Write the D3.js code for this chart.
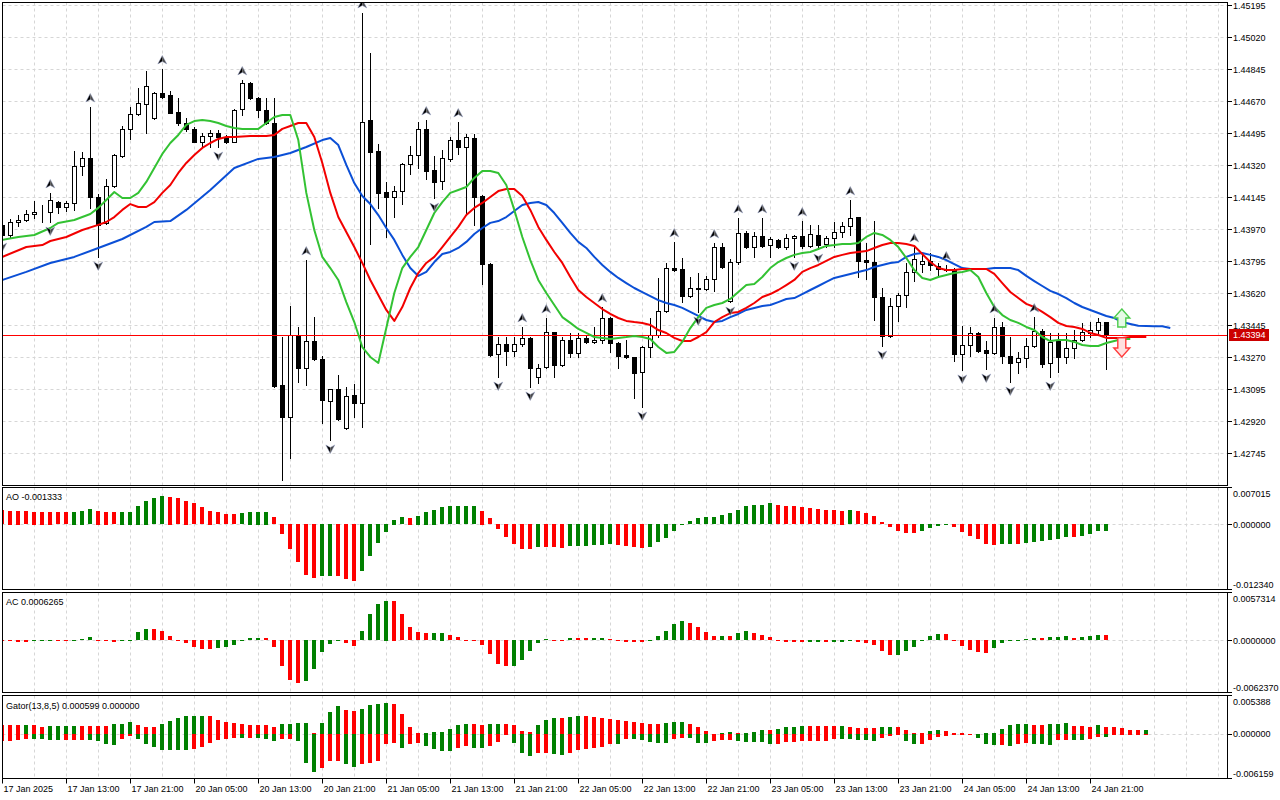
<!DOCTYPE html>
<html><head><meta charset="utf-8">
<script src="https://cdn.jsdelivr.net/npm/d3@7"></script>
<style>
html,body{margin:0;padding:0;background:#fff;}
svg{display:block;}
text{font-family:"Liberation Sans",Arial,sans-serif;font-size:9px;fill:#000;}
</style>
</head><body>
<svg id="c" width="1280" height="800"></svg>
<script>
// ---------------- DATA ----------------
const opens = [1.43994,1.43939,1.44010,1.44021,1.44054,1.44065,1.44065,1.44119,1.44092,1.44114,
1.44316,1.44360,1.44147,1.44005,1.44207,1.44371,1.44519,1.44601,1.44655,1.44579,
1.44715,1.44705,1.44612,1.44551,1.44519,1.44448,1.44480,1.44497,1.44475,1.44447,
1.44628,1.44770,1.44688,1.44622,1.44551,1.43119,1.42944,1.43392,1.43212,1.43359,
1.43261,1.43031,1.43097,1.42883,1.43064,1.43020,1.44568,1.44398,1.44174,1.44147,
1.44179,1.44327,1.44376,1.44519,1.44294,1.44234,1.44355,1.44458,1.44420,1.44469,
1.44152,1.43780,1.43288,1.43343,1.43304,1.43343,1.43376,1.43162,1.43217,1.43408,
1.43228,1.43365,1.43294,1.43376,1.43354,1.43365,1.43485,1.43348,1.43283,1.43272,
1.43190,1.43326,1.43392,1.43523,1.43758,1.43753,1.43605,1.43649,1.43644,1.43698,
1.43873,1.43578,1.43791,1.43950,1.43873,1.43933,1.43884,1.43912,1.43873,1.43922,
1.43933,1.43879,1.43939,1.43890,1.43922,1.43955,1.43988,1.44037,1.43802,1.43791,
1.43600,1.43387,1.43551,1.43611,1.43737,1.43780,1.43797,1.43769,1.43753,1.43753,
1.43288,1.43337,1.43403,1.43310,1.43294,1.43436,1.43277,1.43244,1.43266,1.43332,
1.43414,1.43239,1.43365,1.43272,1.43321,1.43365,1.43403,1.43419,1.43463];
const highs = [1.44010,1.44026,1.44048,1.44076,1.44125,1.44103,1.44169,1.44125,1.44125,1.44398,
1.44393,1.44639,1.44163,1.44245,1.44382,1.44535,1.44639,1.44743,1.44836,1.44721,
1.44847,1.44726,1.44688,1.44579,1.44530,1.44497,1.44513,1.44513,1.44486,1.44628,
1.44787,1.44776,1.44694,1.44688,1.44688,1.43381,1.43551,1.43436,1.43802,1.43490,
1.43277,1.43097,1.43173,1.43108,1.43124,1.45153,1.44934,1.44437,1.44229,1.44207,
1.44333,1.44426,1.44557,1.44568,1.44371,1.44404,1.44475,1.44557,1.44491,1.44491,
1.44155,1.43783,1.43381,1.43381,1.43381,1.43436,1.43381,1.43233,1.43485,1.43411,
1.43381,1.43403,1.43403,1.43387,1.43436,1.43545,1.43490,1.43354,1.43365,1.43274,
1.43332,1.43485,1.43704,1.43786,1.43901,1.43813,1.43709,1.43731,1.43715,1.43895,
1.43895,1.43808,1.44032,1.43961,1.43955,1.44032,1.43928,1.43917,1.43944,1.43939,
1.44015,1.43994,1.43994,1.43933,1.44010,1.44010,1.44130,1.44040,1.43895,1.44015,
1.43649,1.43594,1.43622,1.43786,1.43873,1.43830,1.43840,1.43786,1.43775,1.43758,
1.43441,1.43436,1.43408,1.43359,1.43485,1.43463,1.43381,1.43299,1.43376,1.43490,
1.43425,1.43403,1.43403,1.43403,1.43419,1.43458,1.43463,1.43485,1.43465];
const lows = [1.43922,1.43928,1.43988,1.44015,1.44032,1.44010,1.44010,1.44059,1.44070,1.44076,
1.44267,1.44087,1.43819,1.43999,1.44201,1.44365,1.44464,1.44595,1.44497,1.44573,
1.44688,1.44604,1.44541,1.44508,1.44445,1.44426,1.44420,1.44420,1.44442,1.44445,
1.44595,1.44683,1.44584,1.44546,1.43108,1.42599,1.42719,1.43135,1.43119,1.43255,
1.42911,1.42818,1.42927,1.42878,1.42944,1.42889,1.43890,1.44087,1.43928,1.44037,
1.44108,1.44272,1.44305,1.44245,1.44141,1.44190,1.44344,1.44382,1.44059,1.43994,
1.43671,1.43277,1.43162,1.43228,1.43277,1.43332,1.43108,1.43130,1.43212,1.43162,
1.43223,1.43272,1.43272,1.43348,1.43348,1.43348,1.43299,1.43212,1.43266,1.43048,
1.42998,1.43272,1.43381,1.43518,1.43742,1.43572,1.43600,1.43518,1.43638,1.43633,
1.43758,1.43572,1.43780,1.43868,1.43819,1.43871,1.43819,1.43868,1.43862,1.43819,
1.43868,1.43873,1.43862,1.43873,1.43873,1.43928,1.43939,1.43709,1.43698,1.43474,
1.43332,1.43381,1.43469,1.43545,1.43687,1.43737,1.43747,1.43715,1.43742,1.43250,
1.43201,1.43277,1.43299,1.43206,1.43288,1.43239,1.43135,1.43184,1.43217,1.43326,
1.43217,1.43162,1.43190,1.43239,1.43266,1.43359,1.43381,1.43403,1.43206];
const closes = [1.43939,1.44010,1.44021,1.44054,1.44065,1.44063,1.44130,1.44092,1.44114,1.44316,
1.44360,1.44147,1.43994,1.44207,1.44376,1.44519,1.44601,1.44661,1.44754,1.44715,
1.44694,1.44608,1.44551,1.44519,1.44449,1.44480,1.44497,1.44475,1.44447,1.44622,
1.44770,1.44688,1.44622,1.44551,1.43113,1.42944,1.43392,1.43212,1.43359,1.43261,
1.43037,1.43097,1.42933,1.43058,1.43020,1.44557,1.44393,1.44169,1.44147,1.44179,
1.44327,1.44376,1.44519,1.44289,1.44229,1.44360,1.44458,1.44420,1.44475,1.44147,
1.43780,1.43283,1.43343,1.43304,1.43343,1.43376,1.43212,1.43212,1.43408,1.43228,
1.43365,1.43294,1.43376,1.43354,1.43365,1.43485,1.43348,1.43277,1.43272,1.43184,
1.43326,1.43392,1.43523,1.43758,1.43747,1.43605,1.43649,1.43644,1.43698,1.43873,
1.43764,1.43791,1.43950,1.43873,1.43933,1.43879,1.43917,1.43873,1.43922,1.43933,
1.43879,1.43944,1.43884,1.43922,1.43955,1.43988,1.44032,1.43797,1.43791,1.43600,
1.43387,1.43551,1.43611,1.43737,1.43808,1.43797,1.43775,1.43753,1.43747,1.43288,
1.43337,1.43403,1.43304,1.43294,1.43436,1.43277,1.43239,1.43266,1.43332,1.43414,
1.43233,1.43354,1.43272,1.43321,1.43365,1.43408,1.43419,1.43463,1.43394];

// Alligator lines as [bar, price] (already shifted forward)
const jaw = [[0,1.43693],[3,1.43737],[6,1.43786],[9,1.43819],[12,1.43868],[15,1.43917],[18,1.43983],[19,1.44010],[21,1.44015],[23,1.44076],[26,1.44185],[29,1.44305],[32,1.44355],[34,1.44365],[36,1.44387],[38,1.44420],[40,1.44458],[41,1.44469],[42,1.44431],[43,1.44322],[44,1.44223],[45,1.44152],[46,1.44108],[47,1.44048],[48,1.43977],[49,1.43912],[50,1.43830],[51,1.43758],[52,1.43715],[53,1.43737],[54,1.43791],[55,1.43835],[56,1.43846],[57,1.43868],[58,1.43901],[59,1.43944],[60,1.43977],[61,1.44005],[62,1.44015],[63,1.44037],[64,1.44070],[65,1.44103],[66,1.44114],[67,1.44119],[68,1.44103],[69,1.44059],[70,1.44005],[71,1.43950],[72,1.43901],[73,1.43868],[74,1.43819],[75,1.43775],[76,1.43737],[77,1.43704],[78,1.43676],[79,1.43649],[80,1.43627],[81,1.43605],[82,1.43583],[83,1.43567],[84,1.43556],[85,1.43540],[86,1.43518],[87,1.43496],[88,1.43474],[89,1.43463],[90,1.43469],[91,1.43490],[92,1.43507],[93,1.43529],[94,1.43540],[95,1.43551],[96,1.43556],[97,1.43572],[98,1.43589],[99,1.43594],[100,1.43616],[101,1.43638],[102,1.43660],[103,1.43682],[104,1.43704],[105,1.43715],[106,1.43726],[107,1.43737],[108,1.43747],[109,1.43764],[110,1.43775],[111,1.43786],[112,1.43791],[113,1.43819],[114,1.43835],[115,1.43840],[116,1.43830],[117,1.43819],[118,1.43802],[119,1.43780],[120,1.43758],[121,1.43753],[122,1.43753],[123,1.43753],[124,1.43758],[125,1.43758],[126,1.43758],[127,1.43747],[128,1.43715],[129,1.43687],[130,1.43660],[131,1.43633],[132,1.43616],[133,1.43594],[134,1.43567],[135,1.43545],[136,1.43529],[137,1.43512],[138,1.43496],[139,1.43485],[140,1.43463],[141,1.43452],[142,1.43442],[143,1.43441],[144,1.43440],[145,1.43440],[146,1.43430]];
const teeth = [[0,1.43819],[3,1.43873],[5,1.43884],[6,1.43906],[8,1.43928],[10,1.43966],[12,1.43994],[13,1.44010],[14,1.44037],[15,1.44076],[16,1.44108],[17,1.44092],[18,1.44092],[19,1.44119],[20,1.44169],[21,1.44212],[22,1.44278],[23,1.44333],[24,1.44376],[25,1.44415],[26,1.44442],[27,1.44464],[28,1.44475],[29,1.44475],[31,1.44480],[33,1.44480],[34,1.44486],[35,1.44519],[36,1.44535],[37,1.44551],[38,1.44551],[39,1.44475],[40,1.44333],[41,1.44169],[42,1.44037],[43,1.43955],[44,1.43873],[45,1.43786],[46,1.43693],[47,1.43611],[48,1.43529],[49,1.43469],[50,1.43545],[51,1.43649],[52,1.43731],[53,1.43786],[54,1.43819],[55,1.43873],[56,1.43928],[57,1.43983],[58,1.44048],[59,1.44087],[60,1.44114],[61,1.44147],[62,1.44179],[63,1.44190],[64,1.44190],[65,1.44152],[66,1.44076],[67,1.43983],[68,1.43912],[69,1.43846],[70,1.43786],[71,1.43709],[72,1.43638],[73,1.43600],[74,1.43567],[75,1.43534],[76,1.43507],[77,1.43485],[78,1.43469],[79,1.43463],[80,1.43458],[81,1.43447],[82,1.43419],[83,1.43403],[84,1.43376],[85,1.43359],[86,1.43359],[87,1.43381],[88,1.43408],[89,1.43463],[90,1.43490],[91,1.43512],[92,1.43518],[93,1.43540],[94,1.43567],[95,1.43600],[96,1.43616],[97,1.43638],[98,1.43665],[99,1.43693],[100,1.43737],[101,1.43758],[102,1.43775],[103,1.43797],[104,1.43819],[105,1.43830],[106,1.43840],[107,1.43846],[108,1.43851],[109,1.43868],[110,1.43884],[111,1.43895],[112,1.43895],[113,1.43890],[114,1.43879],[115,1.43835],[116,1.43791],[117,1.43758],[118,1.43747],[119,1.43747],[120,1.43753],[121,1.43753],[122,1.43753],[123,1.43753],[124,1.43726],[125,1.43676],[126,1.43627],[127,1.43594],[128,1.43562],[129,1.43545],[130,1.43518],[131,1.43490],[132,1.43458],[133,1.43441],[134,1.43436],[135,1.43425],[136,1.43403],[137,1.43392],[138,1.43376],[139,1.43376],[140,1.43376],[141,1.43381],[142,1.43381],[143,1.43381]];
const lips = [[0,1.43912],[2,1.43928],[4,1.43939],[6,1.43977],[7,1.44005],[9,1.44021],[11,1.44054],[12,1.44087],[13,1.44130],[14,1.44174],[15,1.44141],[16,1.44141],[17,1.44169],[18,1.44229],[19,1.44305],[20,1.44382],[21,1.44442],[22,1.44486],[23,1.44541],[24,1.44562],[25,1.44568],[26,1.44562],[27,1.44551],[28,1.44535],[29,1.44524],[30,1.44519],[31,1.44519],[32,1.44519],[33,1.44551],[34,1.44584],[35,1.44595],[36,1.44595],[37,1.44458],[38,1.44169],[39,1.43966],[40,1.43819],[41,1.43758],[42,1.43693],[43,1.43572],[44,1.43463],[45,1.43326],[46,1.43272],[47,1.43239],[48,1.43430],[49,1.43622],[50,1.43758],[51,1.43819],[52,1.43873],[53,1.43966],[54,1.44059],[55,1.44119],[56,1.44169],[57,1.44185],[58,1.44201],[59,1.44251],[60,1.44289],[61,1.44289],[62,1.44278],[63,1.44212],[64,1.44076],[65,1.43928],[66,1.43802],[67,1.43693],[68,1.43622],[69,1.43556],[70,1.43490],[71,1.43458],[72,1.43425],[73,1.43403],[74,1.43381],[75,1.43376],[76,1.43370],[77,1.43376],[78,1.43381],[79,1.43387],[80,1.43381],[81,1.43370],[82,1.43326],[83,1.43294],[84,1.43299],[85,1.43354],[86,1.43430],[87,1.43490],[88,1.43540],[89,1.43556],[90,1.43567],[91,1.43589],[92,1.43627],[93,1.43665],[94,1.43671],[95,1.43709],[96,1.43758],[97,1.43791],[98,1.43813],[99,1.43830],[100,1.43840],[101,1.43846],[102,1.43862],[103,1.43879],[104,1.43884],[105,1.43890],[106,1.43890],[107,1.43895],[108,1.43928],[109,1.43950],[110,1.43939],[111,1.43912],[112,1.43873],[113,1.43813],[114,1.43747],[115,1.43704],[116,1.43693],[117,1.43709],[118,1.43720],[119,1.43731],[120,1.43737],[121,1.43747],[122,1.43709],[123,1.43622],[124,1.43545],[125,1.43501],[126,1.43474],[127,1.43458],[128,1.43436],[129,1.43419],[130,1.43381],[131,1.43359],[132,1.43365],[133,1.43365],[134,1.43354],[135,1.43337],[136,1.43332],[137,1.43332],[138,1.43348],[139,1.43359],[140,1.43370],[141,1.43370]];

const fractalUpBars = [6,11,20,30,38,45,53,57,65,68,75,84,89,92,95,100,106,114,118,124,129];
const fractalDownBars = [0,6,12,27,35,41,54,62,66,80,87,91,99,102,110,120,123,126,131];

const signalBar = 140;
const buySignal = [1.43534, 1.43436];
const sellSignal = [1.43376, 1.43272];
const currentPrice = 1.43394;

const ao = [0.00272,0.00259,0.00258,0.00247,0.00240,0.00239,0.00238,0.00237,0.00228,0.00240,
0.00259,0.00291,0.00259,0.00240,0.00228,0.00240,0.00242,0.00354,0.00449,0.00494,
0.00531,0.00530,0.00494,0.00449,0.00399,0.00323,0.00259,0.00228,0.00196,0.00195,
0.00209,0.00240,0.00241,0.00242,0.00133,-0.00196,-0.00481,-0.00721,-0.00962,-0.01025,
-0.00993,-0.00992,-0.00994,-0.01050,-0.01082,-0.00892,-0.00614,-0.00361,-0.00152,0.00089,
0.00133,0.00132,0.00165,0.00240,0.00278,0.00323,0.00342,0.00343,0.00344,0.00345,
0.00259,0.00114,-0.00101,-0.00247,-0.00386,-0.00468,-0.00481,-0.00437,-0.00440,-0.00442,
-0.00456,-0.00424,-0.00423,-0.00418,-0.00405,-0.00393,-0.00386,-0.00405,-0.00424,-0.00430,
-0.00449,-0.00430,-0.00348,-0.00272,-0.00127,0.00010,0.00063,0.00120,0.00139,0.00140,
0.00177,0.00215,0.00272,0.00348,0.00367,0.00368,0.00405,0.00367,0.00348,0.00347,
0.00329,0.00310,0.00291,0.00272,0.00271,0.00259,0.00272,0.00253,0.00215,0.00158,
0.00044,-0.00063,-0.00139,-0.00177,-0.00178,-0.00139,-0.00082,-0.00044,-0.00025,-0.00063,
-0.00158,-0.00234,-0.00291,-0.00386,-0.00405,-0.00386,-0.00385,-0.00387,-0.00367,-0.00348,
-0.00329,-0.00310,-0.00291,-0.00253,-0.00254,-0.00234,-0.00196,-0.00139,-0.001333];

const ac = [-0.00012,-0.00016,-0.00018,-0.00020,-0.00010,-0.00006,-0.00003,-0.00008,-0.00014,0.00002,
0.00016,0.00040,0.00004,-0.00010,-0.00028,-0.00016,0.00004,0.00099,0.00135,0.00134,
0.00111,0.00051,-0.00002,-0.00040,-0.00080,-0.00111,-0.00112,-0.00099,-0.00080,-0.00060,
-0.00005,0.00028,0.00029,0.00027,-0.00088,-0.00315,-0.00474,-0.00518,-0.00494,-0.00350,
-0.00147,-0.00044,-0.00008,-0.00040,-0.00068,0.00111,0.00315,0.00434,0.00474,0.00473,
0.00315,0.00159,0.00099,0.00087,0.00089,0.00090,0.00064,0.00040,0.00002,-0.00005,
-0.00056,-0.00167,-0.00283,-0.00315,-0.00314,-0.00243,-0.00135,-0.00040,0.00016,0.00002,
-0.00002,0.00026,0.00025,0.00024,0.00026,0.00027,0.00012,-0.00008,-0.00018,-0.00027,
-0.00028,-0.00002,0.00051,0.00111,0.00195,0.00231,0.00207,0.00159,0.00099,0.00051,
0.00053,0.00050,0.00087,0.00111,0.00087,0.00063,0.00039,0.00004,-0.00020,-0.00021,
-0.00027,-0.00026,-0.00025,-0.00027,-0.00026,-0.00020,-0.00002,-0.00020,-0.00040,-0.00063,
-0.00135,-0.00183,-0.00182,-0.00135,-0.00087,-0.00004,0.00051,0.00075,0.00074,-0.00004,
-0.00075,-0.00123,-0.00147,-0.00159,-0.00099,-0.00040,-0.00003,0.00002,0.00012,0.00027,
0.00026,0.00039,0.00040,0.00051,0.00028,0.00039,0.00051,0.00064,0.0006265];

const gatorUp = [0.001245,0.001238,0.001231,0.001245,0.001238,0.001065,0.001079,0.001093,0.001106,0.001203,
0.001189,0.001176,0.001162,0.001148,0.001424,0.001480,0.001756,0.001342,0.001065,0.001051,
0.001480,0.001895,0.002213,0.002489,0.002503,0.002586,0.002489,0.002033,0.001756,0.001618,
0.001424,0.001342,0.001245,0.001231,0.001065,0.001424,0.001480,0.001494,0.001507,0.000235,
0.001618,0.003139,0.003872,0.003416,0.003278,0.003554,0.004108,0.004190,0.004384,0.004246,
0.002863,0.001065,0.000138,0.000235,0.000318,0.000332,0.000788,0.001245,0.001424,0.001411,
0.001245,0.001424,0.001480,0.001466,0.001245,0.000512,0.000318,0.001342,0.001978,0.002310,
0.002296,0.002448,0.002586,0.002489,0.002351,0.002254,0.002116,0.001978,0.001895,0.001756,
0.001618,0.001480,0.001466,0.001521,0.001756,0.001770,0.001480,0.001065,0.000512,0.000041,
0.000235,0.000249,0.000138,0.000235,0.000373,0.000650,0.000636,0.000788,0.000968,0.001065,
0.001203,0.001189,0.001176,0.001162,0.001148,0.001162,0.000968,0.000871,0.000857,0.000830,
0.000968,0.001065,0.000968,0.000595,0.000138,0.000124,0.000512,0.000650,0.000512,0.000235,
0.000138,0.000041,0.000000,0.000138,0.000235,0.000788,0.001245,0.001424,0.001480,0.001342,
0.001328,0.001424,0.001480,0.001494,0.001203,0.001189,0.001065,0.001245,0.001065,0.001051,
0.000927,0.000650,0.000553,0.000599];
const gatorDown = [-0.000968,-0.000968,-0.000871,-0.000733,-0.000747,-0.000761,-0.000871,-0.000885,-0.000871,-0.000857,
-0.000844,-0.000871,-0.000968,-0.001342,-0.001521,-0.000733,-0.000277,-0.000733,-0.001342,-0.001798,
-0.002171,-0.002254,-0.002268,-0.002282,-0.002116,-0.001798,-0.001245,-0.000871,-0.000650,-0.000553,
-0.000567,-0.000512,-0.000526,-0.000733,-0.000968,-0.000733,-0.000719,-0.000968,-0.003969,-0.005255,
-0.004702,-0.003776,-0.003693,-0.004108,-0.004522,-0.004190,-0.003969,-0.003734,-0.001342,-0.001203,
-0.001978,-0.001342,-0.001314,-0.001701,-0.002075,-0.002351,-0.002365,-0.001895,-0.001660,-0.001936,
-0.001950,-0.001660,-0.001148,-0.000041,-0.001245,-0.002669,-0.003043,-0.002669,-0.002655,-0.002807,
-0.002904,-0.002586,-0.002254,-0.002116,-0.001978,-0.001798,-0.001424,-0.001438,-0.000692,-0.000733,
-0.000871,-0.001106,-0.001203,-0.001245,-0.000733,-0.000553,-0.000567,-0.001203,-0.001217,-0.000968,
-0.000871,-0.000857,-0.000968,-0.001106,-0.001120,-0.001134,-0.001342,-0.001328,-0.001106,-0.001093,
-0.000968,-0.000954,-0.000940,-0.000927,-0.000733,-0.000747,-0.000761,-0.000774,-0.000871,-0.000968,
-0.000512,-0.000277,-0.000180,-0.000968,-0.001342,-0.001328,-0.000830,-0.000415,-0.000277,-0.000097,
-0.000041,0.000000,-0.000512,-0.001342,-0.001480,-0.001466,-0.001701,-0.001342,-0.001245,-0.001424,
-0.001438,-0.001563,-0.000871,-0.000857,-0.000871,-0.000885,-0.000733,-0.000415,-0.000429,-0.000097,
-0.000083,-0.000041,-0.000028,0.000000];

const priceTicks = [1.45195,1.45020,1.44845,1.44670,1.44495,1.44320,1.44145,1.43970,1.43795,1.43620,1.43445,1.43270,1.43095,1.42920,1.42745];
const aoRange = [-0.012340, 0.007015];
const acRange = [-0.0062370, 0.0057314];
const gatorRange = [-0.006159, 0.005388];
const timeLabels = ["17 Jan 2025","17 Jan 13:00","17 Jan 21:00","20 Jan 05:00","20 Jan 13:00","20 Jan 21:00","21 Jan 05:00","21 Jan 13:00","21 Jan 21:00","22 Jan 05:00","22 Jan 13:00","22 Jan 21:00","23 Jan 05:00","23 Jan 13:00","23 Jan 21:00","24 Jan 05:00","24 Jan 13:00","24 Jan 21:00"];
const barsPerLabel = 8;
const barsPerGrid = 4;
const gridBarMax = 152;

// ---------------- LAYOUT ----------------
const svg = d3.select('#c');
const LEFT = 2.5, RIGHT = 1227.5;
const P = {
  main: {top: 2.5, bottom: 485.5},
  ao: {top: 487.5, bottom: 589.5},
  ac: {top: 592.5, bottom: 692.5},
  gator: {top: 695.5, bottom: 778.5}
};
const GREEN = '#008000', RED = '#ff0000', GRID = '#d6d6d6';

const x = d3.scaleLinear().domain([0, 1]).range([2.3, 10.3]);
const yMain = d3.scaleLinear().domain([priceTicks[priceTicks.length-1], priceTicks[0]]).range([453.3, 5.3]);
const yAO = d3.scaleLinear().domain(aoRange).range([P.ao.bottom, P.ao.top]);
const yAC = d3.scaleLinear().domain(acRange).range([P.ac.bottom, P.ac.top]);
const yG = d3.scaleLinear().domain(gatorRange).range([P.gator.bottom, P.gator.top]);

const defs = svg.append('defs');
function clipFor(name, p) {
  defs.append('clipPath').attr('id', 'clip-' + name)
    .append('rect').attr('x', LEFT + 0.5).attr('y', p.top + 0.5)
    .attr('width', RIGHT - LEFT - 1).attr('height', p.bottom - p.top - 1);
  return svg.append('g').attr('clip-path', 'url(#clip-' + name + ')');
}
const gMain = clipFor('main', P.main);
const gAO = clipFor('ao', P.ao);
const gAC = clipFor('ac', P.ac);
const gGator = clipFor('gator', P.gator);

const px = v => Math.round(v) + 0.5;
const gridBars = d3.range(barsPerGrid, gridBarMax + 1, barsPerGrid);

// vertical grid in all panels
[[gMain, P.main], [gAO, P.ao], [gAC, P.ac], [gGator, P.gator]].forEach(([g, p]) => {
  g.append('g').selectAll('line').data(gridBars).join('line')
    .attr('x1', d => px(x(d))).attr('x2', d => px(x(d)))
    .attr('y1', p.top).attr('y2', p.bottom)
    .attr('stroke', GRID).attr('stroke-width', 1).attr('stroke-dasharray', '3,3');
});
// horizontal grid main
gMain.append('g').selectAll('line').data(priceTicks).join('line')
  .attr('x1', LEFT).attr('x2', RIGHT)
  .attr('y1', d => px(yMain(d))).attr('y2', d => px(yMain(d)))
  .attr('stroke', GRID).attr('stroke-dasharray', '3,3');
// zero lines in subpanels
[[gAO, yAO], [gAC, yAC], [gGator, yG]].forEach(([g, y]) => {
  g.append('line').attr('x1', LEFT).attr('x2', RIGHT)
    .attr('y1', px(y(0))).attr('y2', px(y(0)))
    .attr('stroke', GRID).attr('stroke-dasharray', '3,3');
});

// candles
const candles = d3.range(opens.length).map(i => ({i, o: opens[i], h: highs[i], l: lows[i], c: closes[i]}));
const cg = gMain.append('g');
cg.selectAll('line.wick').data(candles).join('line').attr('class', 'wick')
  .attr('x1', d => px(x(d.i))).attr('x2', d => px(x(d.i)))
  .attr('y1', d => Math.round(yMain(d.h))).attr('y2', d => Math.round(yMain(d.l)) + 1)
  .attr('stroke', '#000').attr('stroke-width', 1);
cg.selectAll('rect.body').data(candles).join('rect').attr('class', 'body')
  .attr('x', d => Math.round(x(d.i)) - 2 + 0.5)
  .attr('y', d => Math.round(yMain(Math.max(d.o, d.c))) + 0.5)
  .attr('width', 4)
  .attr('height', d => Math.max(0, Math.round(yMain(Math.min(d.o, d.c))) - Math.round(yMain(Math.max(d.o, d.c)))))
  .attr('fill', d => d.c >= d.o ? '#fff' : '#000')
  .attr('stroke', '#000').attr('stroke-width', 1);

// current price line (bid)
gMain.append('line').attr('x1', LEFT).attr('x2', RIGHT)
  .attr('y1', px(yMain(currentPrice))).attr('y2', px(yMain(currentPrice)))
  .attr('stroke', '#ff0000').attr('stroke-width', 1).attr('shape-rendering', 'crispEdges');

// alligator
const line = d3.line().x(d => x(d[0])).y(d => yMain(d[1]));
[[jaw, '#0b4fd6'], [teeth, '#f20000'], [lips, '#33c233']].forEach(([data, col]) => {
  gMain.append('path').datum(data).attr('d', line)
    .attr('fill', 'none').attr('stroke', col).attr('stroke-width', 2)
    .attr('stroke-linejoin', 'round');
});

// fractals
function fractal(g, bar, up) {
  const cx = x(bar);
  const cy = up ? yMain(highs[bar]) - 9 : yMain(lows[bar]) + 9;
  const s = up ? 1 : -1;
  const f = g.append('g').attr('transform', `translate(${cx},${cy}) scale(1,${s})`);
  f.append('path').attr('d', 'M0,-4.5 L-4.5,4 L0,1.5 Z').attr('fill', '#000');
  f.append('path').attr('d', 'M0,-4.5 L4.5,4 L0,1.5 Z').attr('fill', '#4a4a4a');
  f.append('path').attr('d', 'M0,-4.5 L4.5,4 L0,1.5 L-4.5,4 Z').attr('fill', 'none')
    .attr('stroke', '#9aa4c8').attr('stroke-width', 0.5);
}
const fg = gMain.append('g');
fractalUpBars.forEach(b => fractal(fg, b, true));
fractalDownBars.forEach(b => fractal(fg, b, false));

// signal arrows
(function () {
  const cx = x(signalBar) - 0.5;
  const t = yMain(buySignal[0]), b = yMain(buySignal[1]);
  gMain.append('path')
    .attr('d', `M${cx},${t} L${cx + 8},${t + 9} L${cx + 4},${t + 9} L${cx + 4},${b} L${cx - 4},${b} L${cx - 4},${t + 9} L${cx - 8},${t + 9} Z`)
    .attr('fill', '#e6fae6').attr('stroke', '#4ccc4c').attr('stroke-width', 1.4);
  const t2 = yMain(sellSignal[0]), b2 = yMain(sellSignal[1]);
  gMain.append('path')
    .attr('d', `M${cx - 4},${t2} L${cx + 4},${t2} L${cx + 4},${b2 - 9} L${cx + 8},${b2 - 9} L${cx},${b2} L${cx - 8},${b2 - 9} L${cx - 4},${b2 - 9} Z`)
    .attr('fill', '#ffe0e0').attr('stroke', '#ff3a3a').attr('stroke-width', 1.4);
})();

// histograms
function hist(g, vals, y) {
  const data = vals.map((v, i) => ({i, v, prev: i > 0 ? vals[i - 1] : v}));
  g.append('g').selectAll('rect').data(data).join('rect')
    .attr('x', d => Math.round(x(d.i)) - 2)
    .attr('y', d => Math.round(Math.min(y(d.v), y(0))))
    .attr('width', 4)
    .attr('height', d => Math.max(1, Math.round(Math.abs(y(d.v) - y(0)))))
    .attr('fill', d => d.v > d.prev ? GREEN : RED);
}
hist(gAO, ao, yAO);
hist(gAC, ac, yAC);
function gatorHist(g, vals, y) {
  const data = vals.map((v, i) => ({i, v, up: i > 0 && Math.abs(v) > Math.abs(vals[i - 1])}));
  g.append('g').selectAll('rect').data(data).join('rect')
    .attr('x', d => Math.round(x(d.i)) - 2)
    .attr('y', d => Math.round(Math.min(y(d.v), y(0))))
    .attr('width', 4)
    .attr('height', d => Math.max(1, Math.round(Math.abs(y(d.v) - y(0)))))
    .attr('fill', d => d.up ? GREEN : RED);
}
gatorHist(gGator, gatorUp, yG);
gatorHist(gGator, gatorDown, yG);

// panel borders
Object.values(P).forEach(p => {
  svg.append('rect').attr('x', LEFT).attr('y', p.top)
    .attr('width', RIGHT - LEFT).attr('height', p.bottom - p.top)
    .attr('fill', 'none').attr('stroke', '#000').attr('stroke-width', 1);
});

// price axis
const axG = svg.append('g');
priceTicks.forEach(t => {
  const yy = px(yMain(t));
  axG.append('line').attr('x1', RIGHT).attr('x2', RIGHT + 4.5).attr('y1', yy).attr('y2', yy).attr('stroke', '#000');
  axG.append('text').attr('x', 1233).attr('y', yy).attr('dy', '0.35em').text(t.toFixed(5));
});
// current price label
const cpY = yMain(currentPrice);
axG.append('rect').attr('x', 1229).attr('y', Math.round(cpY) - 6).attr('width', 40).attr('height', 12).attr('fill', '#cc0000');
axG.append('text').attr('x', 1233).attr('y', cpY).attr('dy', '0.35em').style('fill', '#fff').text(currentPrice.toFixed(5));

// subpanel axes
function subAxis(p, y, range, dec) {
  const vals = [range[1], 0, range[0]];
  vals.forEach((v, k) => {
    const yy = k === 0 ? p.top : (k === 2 ? p.bottom : px(y(0)));
    axG.append('line').attr('x1', RIGHT).attr('x2', RIGHT + 4.5).attr('y1', yy).attr('y2', yy).attr('stroke', '#000');
    const ty = k === 0 ? p.top + 6 : (k === 2 ? p.bottom - 5 : y(0));
    axG.append('text').attr('x', 1233).attr('y', ty).attr('dy', '0.35em').text(v.toFixed(dec));
  });
}
subAxis(P.ao, yAO, aoRange, 6);
subAxis(P.ac, yAC, acRange, 7);
subAxis(P.gator, yG, gatorRange, 6);

// indicator titles
svg.append('text').attr('x', 6).attr('y', 499.5).text('AO ' + ao[ao.length - 1].toFixed(6));
svg.append('text').attr('x', 6).attr('y', 604.5).text('AC ' + ac[ac.length - 1].toFixed(7));
svg.append('text').attr('x', 6).attr('y', 708.5).text('Gator(13,8,5) ' + gatorUp[gatorUp.length - 1].toFixed(6) + ' ' + Math.abs(gatorDown[gatorDown.length - 1]).toFixed(6));

// time axis
timeLabels.forEach((lab, k) => {
  const bx = px(x(k * barsPerLabel));
  axG.append('line').attr('x1', bx).attr('x2', bx).attr('y1', P.gator.bottom).attr('y2', P.gator.bottom + 5).attr('stroke', '#000');
  axG.append('text').attr('x', bx + 1).attr('y', 792).text(lab);
});
</script>
</body></html>
